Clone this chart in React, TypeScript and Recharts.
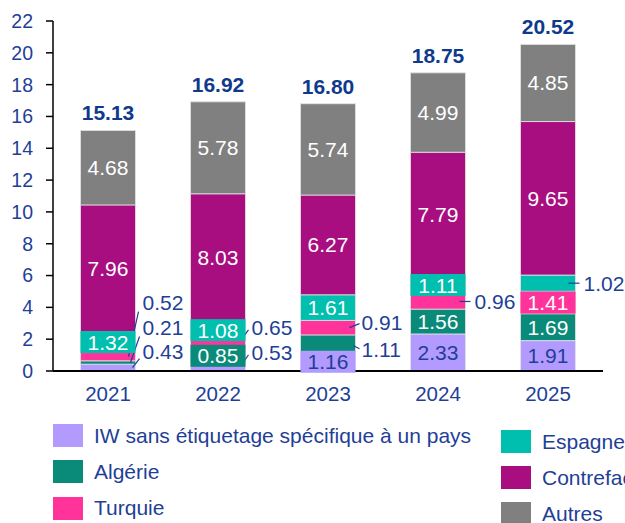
import React from 'react';
import { BarChart, Bar, XAxis, YAxis, LabelList } from 'recharts';

const years = ['2021', '2022', '2023', '2024', '2025'];
const iw = [0.43, 0.53, 1.16, 2.33, 1.91];
const algerie = [0.21, 0.85, 1.11, 1.56, 1.69];
const turquie = [0.52, 0.65, 0.91, 0.96, 1.41];
const espagne = [1.32, 1.08, 1.61, 1.11, 1.02];
const contrefacon = [7.96, 8.03, 6.27, 7.79, 9.65];
const autres = [4.68, 5.78, 5.74, 4.99, 4.85];
const totals = [15.13, 16.92, 16.8, 18.75, 20.52];
const yTicks = [0, 2, 4, 6, 8, 10, 12, 14, 16, 18, 20, 22];

const BLUE = '#1F3F97';
const FONT = '"Liberation Sans", Arial, sans-serif';

const series = [
    { key: 'iw', name: 'IW sans étiquetage spécifique à un pays', color: '#B39AFF', text: BLUE },
    { key: 'algerie', name: 'Algérie', color: '#0A8A78', text: '#fff' },
    { key: 'turquie', name: 'Turquie', color: '#FF3399', text: '#fff' },
    { key: 'espagne', name: 'Espagne', color: '#00BFAE', text: '#fff' },
    { key: 'contrefacon', name: 'Contrefaçon', color: '#A80E80', text: '#fff' },
    { key: 'autres', name: 'Autres', color: '#808080', text: '#fff' },
];

const data = years.map((year, i) => ({
    year,
    iw: iw[i],
    algerie: algerie[i],
    turquie: turquie[i],
    espagne: espagne[i],
    contrefacon: contrefacon[i],
    autres: autres[i],
}));

// labels placed beside the bar, offsets from (bar right edge, segment centre)
const outside: Record<string, { dx: number; dy: number; line: [number, number, number, number] }> = {
    'turquie-0': { dx: 7, dy: -54, line: [-7, 0, 3, -45] },
    'algerie-0': { dx: 7, dy: -35, line: [-5, 0, 4, -26] },
    'iw-0': { dx: 7, dy: -16, line: [-3, 0, 4, -9] },
    'turquie-1': { dx: 6, dy: -16, line: [-3, -6, 3, -14] },
    'iw-1': { dx: 6, dy: -14, line: [-3, -3, 3, -12] },
    'turquie-2': { dx: 6, dy: -5, line: [-6, 0, 4, -4] },
    'algerie-2': { dx: 6, dy: 6, line: [-2, 2, 4, 5] },
    'turquie-3': { dx: 9, dy: 0, line: [-6, 0, 5, 0] },
    'espagne-4': { dx: 8, dy: 0, line: [-7, 0, 4, 0] },
};

const makeLabel = (key: string, color: string, textColor: string) => (props: any) => {
    const { x, y, width, height, value, index } = props;
    const cx = Number(x) + Number(width) / 2;
    const cy = Number(y) + Number(height) / 2;
    const right = Number(x) + Number(width);
    const ext = outside[`${key}-${index}`];
    const label = Number(value).toFixed(2);
    if (ext) {
        const [x0, y0, x1, y1] = ext.line;
        return (
            <g>
                <line x1={right + x0} y1={cy + y0} x2={right + x1} y2={cy + y1} stroke={BLUE} strokeWidth={1.2} />
                <text x={right + ext.dx} y={cy + ext.dy} dominantBaseline="central" fill={BLUE} fontSize={21} fontFamily={FONT}>
                    {label}
                </text>
            </g>
        );
    }
    const h = Math.abs(Number(height));
    return (
        <g>
            {h < 24 && <rect x={Number(x)} y={cy - 11} width={Number(width)} height={22} fill={color} />}
            <text x={cx} y={cy} textAnchor="middle" dominantBaseline="central" fill={textColor} fontSize={21} fontFamily={FONT}>
                {label}
            </text>
        </g>
    );
};

const TotalLabel = (props: any) => {
    const { x, y, width, index } = props;
    return (
        <text x={Number(x) + Number(width) / 2} y={Number(y) - 10} textAnchor="middle" fill="#0F3A8C" fontSize={21} fontWeight="bold" fontFamily={FONT}>
            {totals[index].toFixed(2)}
        </text>
    );
};

const legendLeft = [series[0], series[1], series[2]];
const legendRight = [series[3], series[4], series[5]];

export default function App() {
    return (
        <div style={{ position: 'absolute', left: 0, top: 0, width: 625, height: 523, overflow: 'hidden', background: '#fff', fontFamily: FONT }}>
            <BarChart width={625} height={410} data={data} margin={{ top: 21, right: 22, bottom: 0, left: 0 }} barCategoryGap="25%">
                <XAxis
                    dataKey="year"
                    height={39}
                    tickLine={false}
                    axisLine={{ stroke: '#000', strokeWidth: 2 }}
                    tickMargin={9}
                    tick={{ fill: BLUE, fontSize: 20.5, fontFamily: FONT }}
                />
                <YAxis
                    width={53}
                    domain={[0, 22]}
                    ticks={yTicks}
                    interval={0}
                    axisLine={{ stroke: '#000', strokeWidth: 1.5 }}
                    tickLine={{ stroke: '#000', strokeWidth: 1.5 }}
                    tickSize={7}
                    tickMargin={13}
                    tick={{ fill: BLUE, fontSize: 19.5, fontFamily: FONT }}
                />
                {series.map((s) => (
                    <Bar key={s.key} dataKey={s.key} name={s.name} stackId="a" fill={s.color} stroke="#e4e4e4" strokeWidth={0.8} isAnimationActive={false}>
                        <LabelList dataKey={s.key} content={makeLabel(s.key, s.color, s.text)} />
                        {s.key === 'autres' && <LabelList dataKey="autres" content={TotalLabel} />}
                    </Bar>
                ))}
            </BarChart>
            {legendLeft.map((s, i) => (
                <div key={s.key} style={{ position: 'absolute', left: 53, top: 424 + i * 36.3, height: 23, display: 'flex', alignItems: 'center', whiteSpace: 'nowrap' }}>
                    <div style={{ width: 30, height: 23, background: s.color, marginRight: 11, flexShrink: 0 }} />
                    <span style={{ color: BLUE, fontSize: 21 }}>{s.name}</span>
                </div>
            ))}
            {legendRight.map((s, i) => (
                <div key={s.key} style={{ position: 'absolute', left: 501, top: 430 + i * 36, height: 23, display: 'flex', alignItems: 'center', whiteSpace: 'nowrap' }}>
                    <div style={{ width: 30, height: 23, background: s.color, marginRight: 11, flexShrink: 0 }} />
                    <span style={{ color: BLUE, fontSize: 21 }}>{s.name}</span>
                </div>
            ))}
        </div>
    );
}
